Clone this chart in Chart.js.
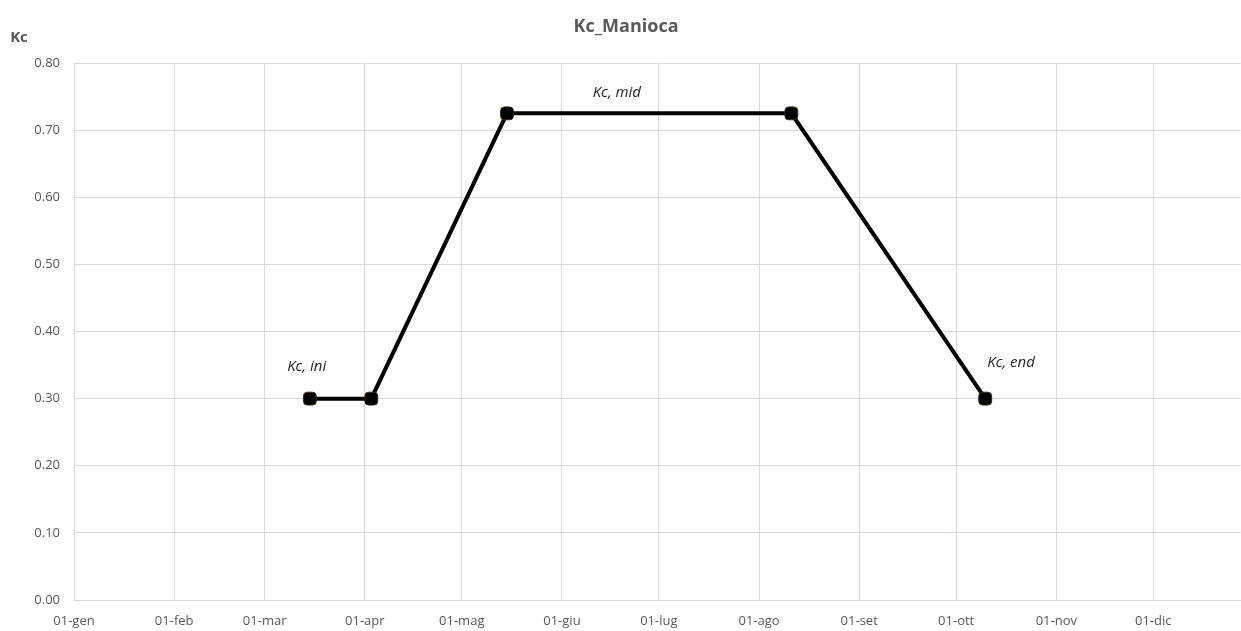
<!DOCTYPE html>
<html>
<head>
<meta charset="utf-8">
<script src="https://cdn.jsdelivr.net/npm/chart.js@4"></script>
<style>
  html, body { margin: 0; background: #fff; overflow: hidden; }
  #chart { display: block; }
</style>
</head>
<body>
<canvas id="chart" width="1249" height="631"></canvas>
<script>
// giorno dell'anno (0 = 01-gen)
const giorni = [73, 92, 134, 222, 282];
const kc = [0.30, 0.30, 0.725, 0.725, 0.30];

// inizio mesi e etichette
const inizioMesi = [0, 31, 59, 90, 120, 151, 181, 212, 243, 273, 304, 334];
const etichetteMesi = ['01-gen', '01-feb', '01-mar', '01-apr', '01-mag', '01-giu',
  '01-lug', '01-ago', '01-set', '01-ott', '01-nov', '01-dic'];

const fasi = ['Kc, ini', 'Kc, mid', 'Kc, end'];
const fasiGiorno = [72, 168, 290];
const fasiKc = [0.348, 0.756, 0.354];

const grigio = '#595959';
const griglia = '#d9d9d9';

const testiPlugin = {
  id: 'testi',
  afterDatasetsDraw(chart) {
    const { ctx, scales: { x, y } } = chart;
    ctx.save();
    ctx.fillStyle = '#262626';
    ctx.font = 'italic 15px "Open Sans"';
    ctx.textAlign = 'center';
    ctx.textBaseline = 'middle';
    fasi.forEach((t, i) => {
      ctx.fillText(t, x.getPixelForValue(fasiGiorno[i]), y.getPixelForValue(fasiKc[i]));
    });
    ctx.fillStyle = grigio;
    ctx.font = 'bold 18px "Open Sans"';
    ctx.fillText('Kc_Manioca', 626, 27);
    ctx.font = 'bold 15px "Open Sans"';
    ctx.fillText('Kc', 19, 38);
    ctx.restore();
  }
};

new Chart(document.getElementById('chart'), {
  type: 'line',
  data: {
    datasets: [{
      label: 'Kc',
      data: giorni.map((g, i) => ({ x: g, y: kc[i] })),
      borderColor: '#000',
      borderWidth: 4,
      backgroundColor: '#000',
      pointStyle: 'rectRounded',
      pointRadius: 7.5,
      pointBorderColor: '#3a2a1a',
      pointBorderWidth: 1,
      tension: 0
    }]
  },
  options: {
    responsive: false,
    animation: false,
    layout: { padding: { top: 63, right: 0, left: 0, bottom: 0 } },
    plugins: {
      legend: { display: false },
      title: { display: false },
      tooltip: { enabled: false }
    },
    scales: {
      x: {
        type: 'linear',
        min: 0,
        max: 361,
        afterBuildTicks: axis => { axis.ticks = inizioMesi.map(v => ({ value: v })); },
        afterFit: axis => { axis.height = 31; },
        grid: { color: griglia, drawTicks: false },
        border: { color: griglia },
        ticks: {
          color: grigio,
          font: { family: 'Open Sans', size: 13 },
          padding: 13,
          maxRotation: 0,
          autoSkip: false,
          callback: v => etichetteMesi[inizioMesi.indexOf(v)]
        }
      },
      y: {
        min: 0,
        max: 0.8,
        afterFit: axis => { axis.width = 74; },
        grid: { color: griglia, drawTicks: false },
        border: { color: griglia },
        ticks: {
          stepSize: 0.1,
          color: grigio,
          font: { family: 'Open Sans', size: 13 },
          padding: 14,
          callback: v => v.toFixed(2)
        }
      }
    }
  },
  plugins: [testiPlugin]
});
</script>
</body>
</html>
